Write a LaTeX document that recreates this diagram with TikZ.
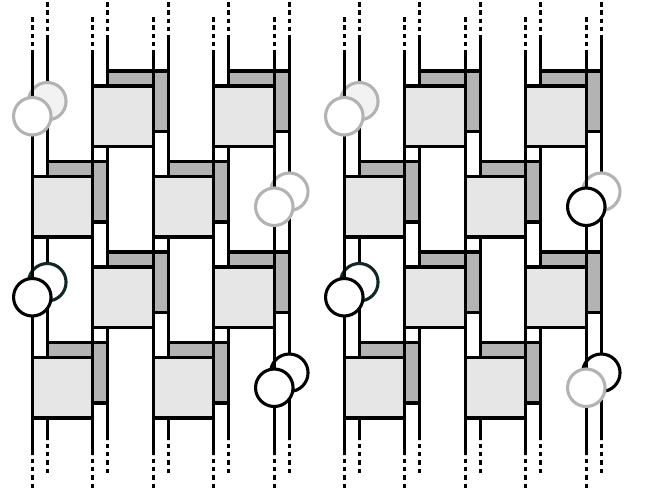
\documentclass[tikz,border=0pt]{standalone}
\definecolor{frontfill}{HTML}{E6E6E6}
\definecolor{backfill}{HTML}{B3B3B3}
\definecolor{ghost}{HTML}{B3B3B3}
\definecolor{palefill}{HTML}{F2F2F2}
\definecolor{darkteal}{HTML}{102828}
\begin{document}
\begin{tikzpicture}[x=1pt,y=-1pt,
  wire/.style={line width=3.1pt, draw=black},
  wiredash/.style={line width=3.1pt, draw=black, dash pattern=on 4.5pt off 3.8pt},
  frontbox/.style={draw=black, fill=frontfill, minimum size=60.5pt, inner sep=0pt, outer sep=0pt, line width=3.1pt},
  backbox/.style={draw=black, fill=backfill, minimum size=60.5pt, inner sep=0pt, outer sep=0pt, line width=3.1pt},
  bead/.style={circle, minimum size=37.5pt, inner sep=0pt, outer sep=0pt, line width=3.1pt, fill=white},
  palebead/.style={bead, draw=ghost, fill=palefill},
  ghostbead/.style={bead, draw=ghost},
  tealbead/.style={bead, draw=darkteal},
  blackbead/.style={bead, draw=black}]
\useasboundingbox (0,0) rectangle (649,498);
% ---------- back layer ----------
\foreach \p/\ox in {L/0,R/312}{
  \foreach \i in {0,...,4}{
    \pgfmathsetmacro{\bx}{32.3+60.5*\i+\ox+15}
    \coordinate (bt-\p-\i) at (\bx,2);
    \coordinate (bu-\p-\i) at (\bx,35.2);
    \coordinate (bl-\p-\i) at (\bx,439.8);
    \coordinate (bb-\p-\i) at (\bx,473);
    \draw[wiredash] (bt-\p-\i) -- (bu-\p-\i);
    \draw[wire] (bu-\p-\i) -- (bl-\p-\i);
    \draw[wiredash] (bb-\p-\i) -- (bl-\p-\i);
  }
  \foreach \r/\i in {0/1,0/3,1/0,1/2,2/1,2/3,3/0,3/2}{
    \pgfmathsetmacro{\cx}{32.3+60.5*\i+30.25+\ox+15}
    \pgfmathsetmacro{\cy}{86+90.5*\r+30.25-15}
    \node[backbox] (bbox-\p-\r-\i) at (\cx,\cy) {};
  }
}
\foreach \p/\ox/\r/\i/\st in {L/0/0/0/palebead, L/0/1/4/ghostbead, L/0/2/0/tealbead, L/0/3/4/blackbead,
                             R/312/0/0/palebead, R/312/1/4/ghostbead, R/312/2/0/tealbead, R/312/3/4/blackbead}{
  \pgfmathsetmacro{\cx}{32.3+60.5*\i+\ox+15}
  \pgfmathsetmacro{\cy}{86+90.5*\r+30.25-15}
  \node[\st] (bbead-\p-\r) at (\cx,\cy) {};
}
% ---------- front layer ----------
\foreach \p/\ox in {L/0,R/312}{
  \foreach \i in {0,...,4}{
    \pgfmathsetmacro{\fx}{32.3+60.5*\i+\ox}
    \coordinate (ft-\p-\i) at (\fx,17);
    \coordinate (fu-\p-\i) at (\fx,50.2);
    \coordinate (fl-\p-\i) at (\fx,454.8);
    \coordinate (fb-\p-\i) at (\fx,488);
    \draw[wiredash] (ft-\p-\i) -- (fu-\p-\i);
    \draw[wire] (fu-\p-\i) -- (fl-\p-\i);
    \draw[wiredash] (fb-\p-\i) -- (fl-\p-\i);
  }
  \foreach \r/\i in {0/1,0/3,1/0,1/2,2/1,2/3,3/0,3/2}{
    \pgfmathsetmacro{\cx}{32.3+60.5*\i+30.25+\ox}
    \pgfmathsetmacro{\cy}{86+90.5*\r+30.25}
    \node[frontbox] (fbox-\p-\r-\i) at (\cx,\cy) {};
  }
}
\foreach \p/\ox/\r/\i/\st in {L/0/0/0/ghostbead, L/0/1/4/ghostbead, L/0/2/0/blackbead, L/0/3/4/blackbead,
                             R/312/0/0/ghostbead, R/312/1/4/blackbead, R/312/2/0/blackbead, R/312/3/4/ghostbead}{
  \pgfmathsetmacro{\cx}{32.3+60.5*\i+\ox}
  \pgfmathsetmacro{\cy}{86+90.5*\r+30.25}
  \node[\st] (fbead-\p-\r) at (\cx,\cy) {};
}
\end{tikzpicture}
\end{document}
